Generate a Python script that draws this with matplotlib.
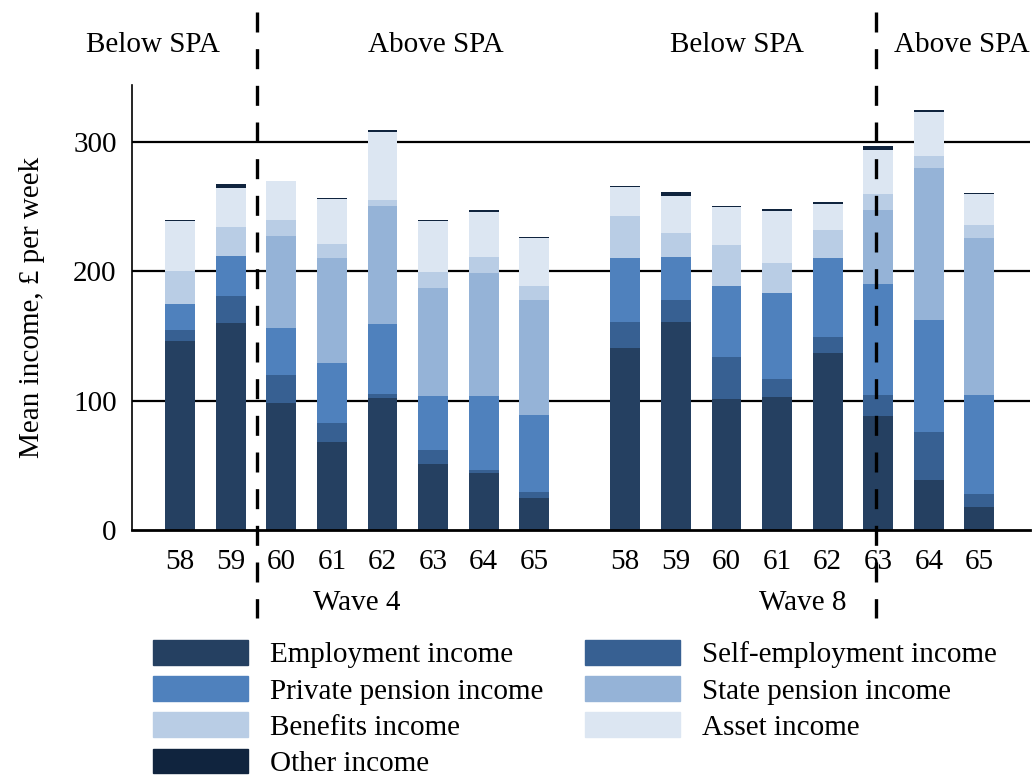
import numpy as np
import matplotlib
matplotlib.use("Agg")
import matplotlib.pyplot as plt
from matplotlib.patches import Patch
from matplotlib.lines import Line2D

plt.rcParams["font.family"] = ["Liberation Serif", "DejaVu Serif"]

# ages for wave 4 and wave 8
ages = [58, 59, 60, 61, 62, 63, 64, 65]
waves = ["Wave 4", "Wave 8"]

# mean income, £ per week (wave 4 ages 58..65 then wave 8 ages 58..65)
employment = [146, 160, 98, 68, 102, 51, 44, 24.5, 141, 161, 101, 102.5, 137, 88.5, 39, 18]
self_emp = [8.5, 21, 21.5, 14.5, 3.5, 11, 2.3, 4.6, 20, 17, 33, 14, 12.5, 15.5, 36.5, 9.5]
private_pension = [20, 31, 37, 46.5, 54, 41.5, 57, 59.5, 49, 33, 55, 67, 61, 86.5, 86.5, 77]
state_pension = [0, 0, 71, 81, 91, 83.5, 95, 89, 0, 0, 0, 0, 0, 57, 118, 121.5]
benefits = [26, 22.5, 12.5, 11, 4.5, 12.5, 13, 11, 33, 18.5, 31, 23, 21.5, 12.5, 9.5, 9.5]
asset = [38.5, 30, 30, 35, 53, 39, 34.5, 37, 22.5, 28.5, 29.5, 40, 20, 34, 34, 24]
other = [0.8, 3, 0, 0.8, 1, 0.8, 1.3, 0.8, 0.8, 3, 1, 1.5, 1.5, 3, 0.8, 0.8]

series = [
    ("Employment income", employment, "#254061"),
    ("Self-employment income", self_emp, "#376092"),
    ("Private pension income", private_pension, "#4F81BD"),
    ("State pension income", state_pension, "#95B3D7"),
    ("Benefits income", benefits, "#B9CDE5"),
    ("Asset income", asset, "#DCE6F2"),
    ("Other income", other, "#10243E"),
]

FS = 21
W = 1033; H = 778
fig = plt.figure(figsize=(W / 100, H / 100), dpi=100)
ax = fig.add_axes([132 / W, 1 - 530 / H, (1030 - 132) / W, (530 - 85) / H])

gap = 8.8
x = np.concatenate([np.arange(8), np.arange(8) + gap])
bottom = np.zeros(len(x))
for name, vals, col in series:
    vals = np.array(vals, dtype=float)
    ax.bar(x, vals, 0.59, bottom=bottom, color=col, label=name, zorder=2)
    bottom += vals

ax.set_xlim(-0.95, 7 + gap + 1.0)
ax.set_ylim(0, 344)
ax.set_yticks([0, 100, 200, 300])
for v in (100, 200, 300):
    ax.axhline(v, color="black", lw=1.6, zorder=1)
ax.set_xticks(x)
ax.set_xticklabels([str(a) for a in ages * 2])
ax.tick_params(axis="both", length=0, labelsize=FS)
ax.tick_params(axis="x", pad=14)
ax.tick_params(axis="y", pad=11)
for s in ("top", "right"):
    ax.spines[s].set_visible(False)
ax.spines["left"].set_linewidth(1.2)
ax.spines["bottom"].set_linewidth(2)
ax.set_ylabel("Mean income, £ per week", fontsize=FS, labelpad=20)

# wave labels under the ticks
ax.text(3.5, -0.164, waves[0], transform=ax.get_xaxis_transform(),
        ha="center", va="center", fontsize=FS)
ax.text(3.5 + gap, -0.164, waves[1], transform=ax.get_xaxis_transform(),
        ha="center", va="center", fontsize=FS)

# SPA split lines + labels (figure pixel coords)
for px in (257, 876):
    fig.add_artist(Line2D([px / W, px / W], [1 - 12 / H, 1 - 618 / H], color="black",
                          lw=2.4, ls=(0, (6, 5)), transform=fig.transFigure))
for txt, px in [("Below SPA", 153), ("Above SPA", 436), ("Below SPA", 737), ("Above SPA", 962)]:
    fig.text(px / W, 1 - 45 / H, txt, ha="center", va="center", fontsize=FS)

# legend, row-major order
hs = {name: Patch(color=col) for name, _, col in series}
order = ["Employment income", "Private pension income", "Benefits income", "Other income",
         "Self-employment income", "State pension income", "Asset income"]
fig.legend([hs[n] for n in order], order, loc="upper left",
           bbox_to_anchor=(153 / W, 1 - 640 / H), ncol=2, frameon=False,
           fontsize=FS, handlelength=3.25, handleheight=0.92, handletextpad=0.75,
           labelspacing=0.27, columnspacing=1.45, borderpad=0, borderaxespad=0)

fig.savefig("out.png", dpi=100)
